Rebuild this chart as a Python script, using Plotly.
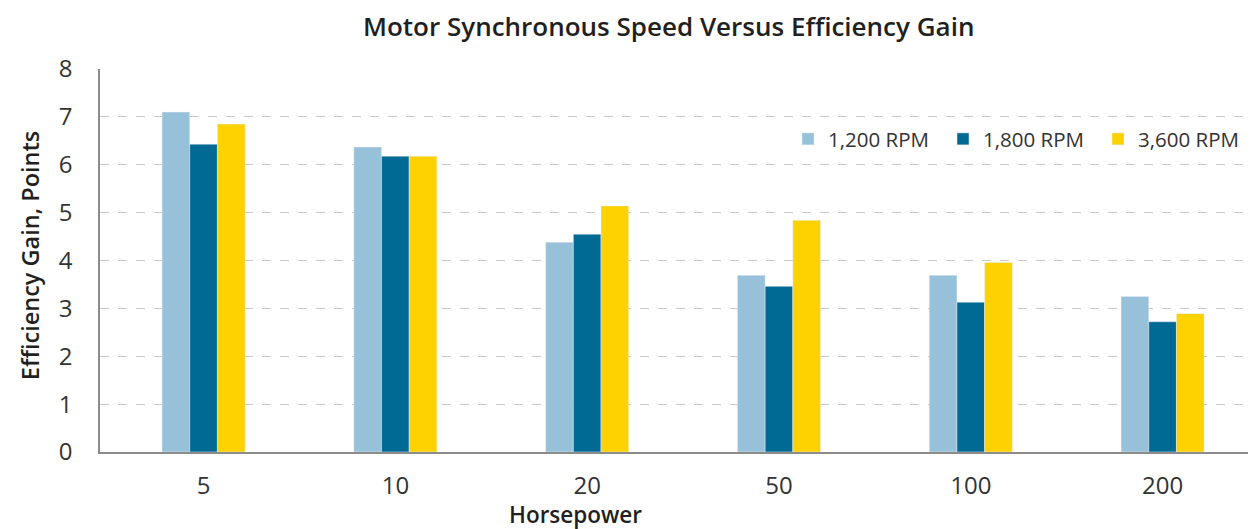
import plotly.graph_objects as go

horsepower = ["5", "10", "20", "50", "100", "200"]
rpm_1200 = [7.10, 6.37, 4.38, 3.69, 3.69, 3.25]
rpm_1800 = [6.43, 6.18, 4.55, 3.46, 3.13, 2.72]
rpm_3600 = [6.85, 6.18, 5.14, 4.84, 3.96, 2.89]
y_ticks = [0, 1, 2, 3, 4, 5, 6, 7, 8]

FONT = "Open Sans"
OFF = 8  # page body margin
PAGE_W, PAGE_H = 1256, 529
W, H = PAGE_W - OFF, PAGE_H - OFF
# plot area in page pixels
PL, PR, PT, PB = 100, 1256, 69, 451.7
L = PL - OFF
R = W - (PR - OFF)
T = PT - OFF
B = H - (PB - OFF)
PW = PR - PL
PH = PB - PT

def px(x):
    return (x - PL) / PW

def py(y):
    return (PB - y) / PH

fig = go.Figure()
fig.add_bar(name="1,200 RPM", x=horsepower, y=rpm_1200, marker_color="#96C1D8")
fig.add_bar(name="1,800 RPM", x=horsepower, y=rpm_1800, marker_color="#006994")
fig.add_bar(name="3,600 RPM", x=horsepower, y=rpm_3600, marker_color="#FED100")

fig.update_layout(
    width=W, height=H,
    margin=dict(l=L, r=R, t=T, b=B, pad=0),
    paper_bgcolor="white", plot_bgcolor="white",
    barmode="group", bargap=0.567, bargroupgap=0,
    font=dict(family=FONT, size=20, color="#333333"),
    showlegend=True,
    legend=dict(orientation="h", x=px(1253), xanchor="right", y=py(139), yanchor="middle",
                font=dict(size=20.5, color="#333333"), bgcolor="rgba(0,0,0,0)",
                itemwidth=30, traceorder="normal", entrywidth=110, entrywidthmode="pixels"),
    xaxis=dict(range=[-0.54, 5.487], showgrid=False, showline=True, linecolor="#8C8C8C",
               linewidth=2, ticks="outside", ticklen=11, tickcolor="rgba(0,0,0,0)",
               tickfont=dict(size=24, color="#333333"), fixedrange=True),
    yaxis=dict(range=[0, 8], tickvals=y_ticks, showgrid=True, gridcolor="#C8C8C8",
               griddash="dash", gridwidth=1.3, showline=True, linecolor="#8C8C8C", linewidth=1.5,
               zeroline=False, ticks="outside", ticklen=21, tickcolor="rgba(0,0,0,0)",
               tickfont=dict(size=24, color="#333333"), fixedrange=True),
    annotations=[
        dict(text="Motor Synchronous Speed Versus Efficiency Gain", xref="paper", yref="paper",
             x=px(668), y=py(26), xanchor="center", yanchor="middle", showarrow=False,
             font=dict(family=FONT, size=26, color="#231F20", weight=600)),
        dict(text="Horsepower", xref="paper", yref="paper", x=px(575), y=py(514),
             xanchor="center", yanchor="middle", showarrow=False,
             font=dict(family=FONT, size=22.5, color="#231F20", weight=600)),
        dict(text="Efficiency Gain, Points", xref="paper", yref="paper", x=px(30), y=py(256),
             xanchor="center", yanchor="middle", textangle=-90, showarrow=False,
             font=dict(family=FONT, size=23.5, color="#231F20", weight=600)),
    ],
)

fig.write_html("out.html")
